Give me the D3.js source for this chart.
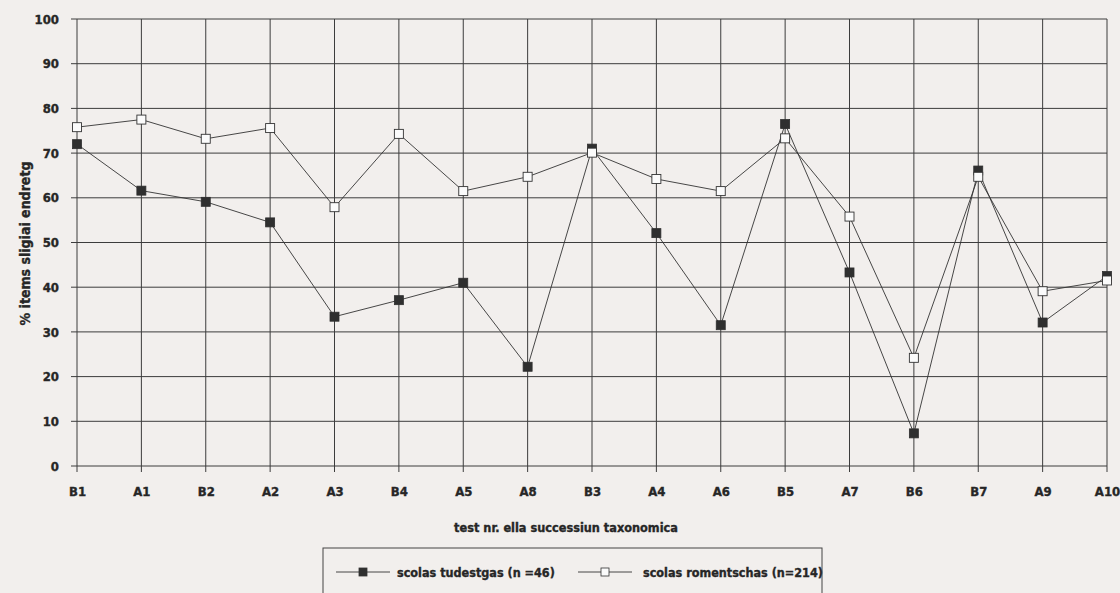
<!DOCTYPE html>
<html>
<head>
<meta charset="utf-8">
<script src="https://cdn.jsdelivr.net/npm/d3@7"></script>
<style>
  html, body { margin: 0; padding: 0; background: #f2efed; }
  svg { display: block; }
  text { font-family: "DejaVu Sans Condensed", "DejaVu Sans", sans-serif; font-weight: bold; fill: #262626; stroke: #262626; stroke-width: 0.35px; }
</style>
</head>
<body>
<svg id="chart" width="1120" height="593"></svg>
<script>
const categories = ["B1","A1","B2","A2","A3","B4","A5","A8","B3","A4","A6","B5","A7","B6","B7","A9","A10"];
const tudestgas = [72.0, 61.6, 59.1, 54.5, 33.4, 37.1, 41.0, 22.2, 71.0, 52.1, 31.5, 76.5, 43.3, 7.3, 66.1, 32.1, 42.5];
const romentschas = [75.8, 77.5, 73.2, 75.6, 57.9, 74.3, 61.5, 64.7, 70.1, 64.2, 61.5, 73.3, 55.8, 24.2, 64.7, 39.1, 41.5];
const yTicks = [0,10,20,30,40,50,60,70,80,90,100];
const seriesNames = ["scolas tudestgas (n =46)", "scolas romentschas (n=214)"];
const yTitle = "% items sligiai endretg";
const xTitle = "test nr. ella successiun taxonomica";

const svg = d3.select("#chart");
const pLeft = 77, pRight = 1107, pTop = 19, pBottom = 466;

const x = d3.scalePoint().domain(categories).range([pLeft, pRight]);
const y = d3.scaleLinear().domain([0, 100]).range([pBottom, pTop]);

const gridColor = "#3c3c3c";

// horizontal grid + y axis
const yAxis = d3.axisLeft(y).tickValues(yTicks).tickSize(0).tickPadding(18);
const gy = svg.append("g").attr("transform", `translate(${pLeft},0)`).call(yAxis);
gy.select(".domain").remove();
gy.selectAll("text").style("font-size", "13px").attr("fill", "#262626");

svg.append("g").selectAll("line").data(yTicks).join("line")
  .attr("x1", pLeft - 6).attr("x2", pRight)
  .attr("y1", d => y(d)).attr("y2", d => y(d))
  .attr("stroke", gridColor).attr("stroke-width", 1);

// vertical grid + x axis
svg.append("g").selectAll("line").data(categories).join("line")
  .attr("x1", d => x(d)).attr("x2", d => x(d))
  .attr("y1", pTop).attr("y2", pBottom + 6)
  .attr("stroke", gridColor).attr("stroke-width", 1);

const xAxis = d3.axisBottom(x).tickSize(0).tickPadding(21);
const gx = svg.append("g").attr("transform", `translate(0,${pBottom})`).call(xAxis);
gx.select(".domain").remove();
gx.selectAll("text").style("font-size", "13px").attr("fill", "#262626");

// axis titles
svg.append("text").attr("transform", `translate(30,${(pTop+pBottom)/2 + 1}) rotate(-90)`)
  .attr("text-anchor", "middle").style("font-size", "14px").text(yTitle);
svg.append("text").attr("x", 566).attr("y", 532)
  .attr("text-anchor", "middle").style("font-size", "12.6px").text(xTitle);

// lines
const line = d3.line().x((d, i) => x(categories[i])).y(d => y(d));
svg.append("path").datum(romentschas).attr("d", line)
  .attr("fill", "none").attr("stroke", "#333").attr("stroke-width", 0.9);
svg.append("path").datum(tudestgas).attr("d", line)
  .attr("fill", "none").attr("stroke", "#333").attr("stroke-width", 0.9);

const ms = 9;
svg.append("g").selectAll("rect").data(tudestgas).join("rect")
  .attr("x", (d, i) => x(categories[i]) - ms/2).attr("y", d => y(d) - ms/2)
  .attr("width", ms).attr("height", ms)
  .attr("fill", "#2f2f2f").attr("stroke", "#2f2f2f").attr("stroke-width", 0.8);
svg.append("g").selectAll("rect").data(romentschas).join("rect")
  .attr("x", (d, i) => x(categories[i]) - ms/2).attr("y", d => y(d) - ms/2)
  .attr("width", ms).attr("height", ms)
  .attr("fill", "#fbfbfb").attr("stroke", "#333").attr("stroke-width", 0.9);

// legend
const lg = svg.append("g");
lg.append("rect").attr("x", 323).attr("y", 548).attr("width", 499).attr("height", 60)
  .attr("fill", "none").attr("stroke", "#444").attr("stroke-width", 1);
const legendItems = [
  {name: seriesNames[0], x1: 336, x2: 390, fill: "#2f2f2f", tx: 397},
  {name: seriesNames[1], x1: 578, x2: 632, fill: "#fbfbfb", tx: 643}
];
const ly = 572;
legendItems.forEach(it => {
  lg.append("line").attr("x1", it.x1).attr("x2", it.x2).attr("y1", ly).attr("y2", ly)
    .attr("stroke", "#333").attr("stroke-width", 0.9);
  const mx = (it.x1 + it.x2) / 2;
  lg.append("rect").attr("x", mx - 4).attr("y", ly - 4).attr("width", 8).attr("height", 8)
    .attr("fill", it.fill).attr("stroke", "#333").attr("stroke-width", 0.8);
  lg.append("text").attr("x", it.tx).attr("y", ly + 4.5).style("font-size", "12.5px").text(it.name);
});
</script>
</body>
</html>
